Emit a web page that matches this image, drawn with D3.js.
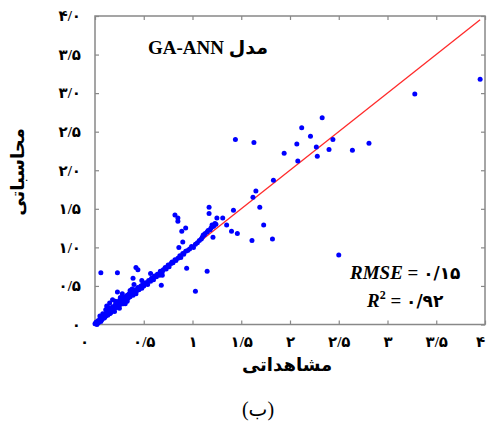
<!DOCTYPE html>
<html>
<head>
<meta charset="utf-8">
<script src="https://cdn.jsdelivr.net/npm/d3@7"></script>
<style>
body { margin: 0; background: #fff; }
text { font-family: "Liberation Serif", "DejaVu Sans", serif; }
</style>
</head>
<body>
<svg id="chart"></svg>
<script>
var width = 487
var height = 421
var margin = { top: 16, right: 2, bottom: 96.5, left: 95 }

// observed (x) and computed (y) values
var observed = [
    0.00, 0.01, 0.02, 0.03, 0.03, 0.04, 0.05, 0.06, 0.06, 0.07, 0.08, 0.09, 0.10, 0.10, 0.11, 0.12, 0.13, 0.14, 0.15, 0.16,
    0.16, 0.17, 0.18, 0.19, 0.20, 0.21, 0.22, 0.23, 0.24, 0.25, 0.26, 0.27, 0.28, 0.29, 0.30, 0.31, 0.32, 0.33, 0.34, 0.35,
    0.36, 0.37, 0.38, 0.39, 0.40, 0.41, 0.42, 0.43, 0.44, 0.45, 0.46, 0.47, 0.48, 0.49, 0.50,
    0.06, 0.23, 0.23, 0.38, 0.39, 0.42, 0.44, 0.48, 0.57, 0.69, 0.68, 0.15, 0.18, 0.12, 0.28, 0.33, 0.20,
    0.08, 0.14, 0.21, 0.26, 0.31, 0.36, 0.11, 0.25, 0.40, 0.05,
    0.52, 0.54, 0.55, 0.57, 0.58, 0.60, 0.61, 0.63, 0.64, 0.66, 0.67, 0.69, 0.70, 0.72, 0.73, 0.75, 0.76, 0.78, 0.79, 0.80,
    0.82, 0.83, 0.85, 0.87, 0.88, 0.90, 0.91, 0.93, 0.95, 0.97, 0.99, 1.01, 1.03, 1.05,
    0.82, 0.85, 0.85, 0.89, 0.93, 0.90, 0.86, 0.94, 1.03, 1.15,
    1.07, 1.09, 1.10, 1.12, 1.13, 1.15, 1.16, 1.18, 1.19, 1.21, 1.22, 1.24, 1.11, 1.21, 1.17, 1.17, 1.25, 1.31, 1.20, 1.23,
    1.35, 1.40, 1.46, 1.42, 1.61, 1.82, 1.73, 1.69, 1.62, 1.65, 1.83,
    1.44, 1.63, 1.94, 2.07, 2.12, 2.21, 2.33, 2.27, 2.28, 2.08, 2.44, 2.40, 2.64, 2.81, 3.28, 3.95, 2.50
]
var computed = [
    0.01, 0.03, 0.00, 0.02, 0.05, 0.03, 0.07, 0.04, 0.09, 0.06, 0.10, 0.08, 0.13, 0.09, 0.11, 0.15, 0.12, 0.18, 0.14, 0.20,
    0.15, 0.17, 0.23, 0.19, 0.21, 0.26, 0.22, 0.28, 0.24, 0.31, 0.26, 0.29, 0.34, 0.27, 0.31, 0.36, 0.32, 0.38, 0.34, 0.40,
    0.36, 0.39, 0.43, 0.38, 0.41, 0.45, 0.40, 0.44, 0.48, 0.45, 0.47, 0.50, 0.47, 0.52, 0.50,
    0.67, 0.67, 0.42, 0.46, 0.60, 0.74, 0.71, 0.57, 0.66, 0.64, 0.51, 0.28, 0.32, 0.24, 0.40, 0.30, 0.17,
    0.14, 0.22, 0.30, 0.35, 0.27, 0.44, 0.19, 0.21, 0.52, 0.11,
    0.54, 0.52, 0.57, 0.56, 0.60, 0.58, 0.63, 0.62, 0.65, 0.64, 0.69, 0.68, 0.71, 0.74, 0.72, 0.77, 0.75, 0.79, 0.81, 0.80,
    0.84, 0.83, 0.86, 0.89, 0.87, 0.92, 0.91, 0.95, 0.96, 0.98, 1.01, 1.00, 1.04, 1.06,
    1.42, 1.38, 1.34, 1.21, 1.25, 1.07, 1.00, 0.73, 0.43, 0.69,
    1.09, 1.11, 1.13, 1.16, 1.18, 1.20, 1.22, 1.23, 1.25, 1.27, 1.28, 1.30, 1.16, 1.13, 1.52, 1.44, 1.38, 1.38, 1.29, 1.31,
    1.29, 1.21, 1.18, 1.48, 1.09, 1.11, 1.29, 1.52, 1.65, 1.73, 1.87,
    2.40, 2.36, 2.22, 2.34, 2.55, 2.44, 2.68, 2.30, 2.18, 2.12, 2.40, 2.27, 2.26, 2.35, 2.99, 3.18, 0.90
]
var fitLine = [0, 3.95]

var xTicks = [0, 0.5, 1, 1.5, 2, 2.5, 3, 3.5, 4]
var xTickLabels = ["۰", "۰/۵", "۱", "۱/۵", "۲", "۲/۵", "۳", "۳/۵", "۴"]
var yTicks = [0, 0.5, 1, 1.5, 2, 2.5, 3, 3.5, 4]
var yTickLabels = ["۰", "۰/۵", "۱/۰", "۱/۵", "۲/۰", "۲/۵", "۳/۰", "۳/۵", "۴/۰"]

var points = observed.map((d, i) => ({ x: d, y: computed[i] }))

var svg = d3.select("#chart")
    .attr("width", width)
    .attr("height", height)

var xScale = d3.scaleLinear()
    .domain([0, 4])
    .range([margin.left, width - margin.right])

var yScale = d3.scaleLinear()
    .domain([0, 4])
    .range([height - margin.bottom, margin.top])

var frameColor = "#888"

// inward ticks on all four sides
function styleAxis(g) {
    g.select(".domain").remove()
    g.selectAll("line").attr("stroke", frameColor).attr("stroke-width", 1.2)
}

function styleLabels(g) {
    g.selectAll("text")
        .attr("font-family", "DejaVu Sans")
        .attr("font-weight", "bold")
        .attr("font-size", 15)
        .attr("fill", "#000")
}

svg.append("g")
    .attr("transform", `translate(0, ${height - margin.bottom})`)
    .call(d3.axisBottom(xScale).tickValues(xTicks).tickSize(-4).tickPadding(12)
        .tickFormat((d, i) => xTickLabels[i]))
    .call(styleAxis)
    .call(styleLabels)
    .call(g => g.selectAll("text")
        .attr("dx", (d, i) => i === 0 ? -11 : (i === xTicks.length - 1 ? -5 : 0)))

svg.append("g")
    .attr("transform", `translate(0, ${margin.top})`)
    .call(d3.axisTop(xScale).tickValues(xTicks).tickSize(-4).tickFormat(""))
    .call(styleAxis)

svg.append("g")
    .attr("transform", `translate(${margin.left}, 0)`)
    .call(d3.axisLeft(yScale).tickValues(yTicks).tickSize(-4).tickPadding(14)
        .tickFormat((d, i) => yTickLabels[i]))
    .call(styleAxis)
    .call(styleLabels)

svg.append("g")
    .attr("transform", `translate(${width - margin.right}, 0)`)
    .call(d3.axisRight(yScale).tickValues(yTicks).tickSize(-4).tickFormat(""))
    .call(styleAxis)

svg.append("rect")
    .attr("x", margin.left)
    .attr("y", margin.top)
    .attr("width", width - margin.left - margin.right)
    .attr("height", height - margin.top - margin.bottom)
    .attr("fill", "none")
    .attr("stroke", frameColor)
    .attr("stroke-width", 1.5)

svg.append("path")
    .datum(fitLine)
    .attr("d", d3.line().x(d => xScale(d)).y(d => yScale(d)))
    .attr("stroke", "#ff2a2a")
    .attr("stroke-width", 1.3)
    .attr("fill", "none")

svg.append("g")
    .selectAll("circle")
    .data(points)
    .enter()
    .append("circle")
    .attr("cx", d => xScale(d.x))
    .attr("cy", d => yScale(d.y))
    .attr("r", 2.5)
    .attr("fill", "#0000ff")

svg.append("text")
    .attr("x", 148)
    .attr("y", 54)
    .attr("font-size", 19)
    .attr("font-weight", "bold")
    .text("GA-ANN مدل")

var rmse = svg.append("text")
    .attr("x", 350)
    .attr("y", 279)
    .attr("font-size", 19)
    .attr("font-weight", "bold")
rmse.append("tspan").attr("font-style", "italic").text("RMSE")
rmse.append("tspan").text(" = ")
rmse.append("tspan").attr("font-family", "DejaVu Sans").attr("font-size", 17).text("۰/۱۵")

var r2 = svg.append("text")
    .attr("x", 367)
    .attr("y", 307)
    .attr("font-size", 19)
    .attr("font-weight", "bold")
r2.append("tspan").attr("font-style", "italic").text("R")
r2.append("tspan").attr("font-size", 12).attr("dy", -8).text("2")
r2.append("tspan").attr("dy", 8).text(" =  ")
r2.append("tspan").attr("font-family", "DejaVu Sans").attr("font-size", 17).text("۰/۹۲")

svg.append("text")
    .attr("x", 287)
    .attr("y", 371)
    .attr("text-anchor", "middle")
    .attr("font-family", "DejaVu Sans")
    .attr("font-weight", "bold")
    .attr("font-size", 18)
    .text("مشاهداتی")

svg.append("text")
    .attr("transform", "rotate(-90)")
    .attr("x", -172)
    .attr("y", 24)
    .attr("text-anchor", "middle")
    .attr("font-family", "DejaVu Sans")
    .attr("font-weight", "bold")
    .attr("font-size", 18)
    .text("محاسباتی")

svg.append("text")
    .attr("x", 258)
    .attr("y", 416)
    .attr("text-anchor", "middle")
    .attr("font-family", "DejaVu Sans")
    .attr("font-size", 20)
    .text("(ب)")
</script>
</body>
</html>
